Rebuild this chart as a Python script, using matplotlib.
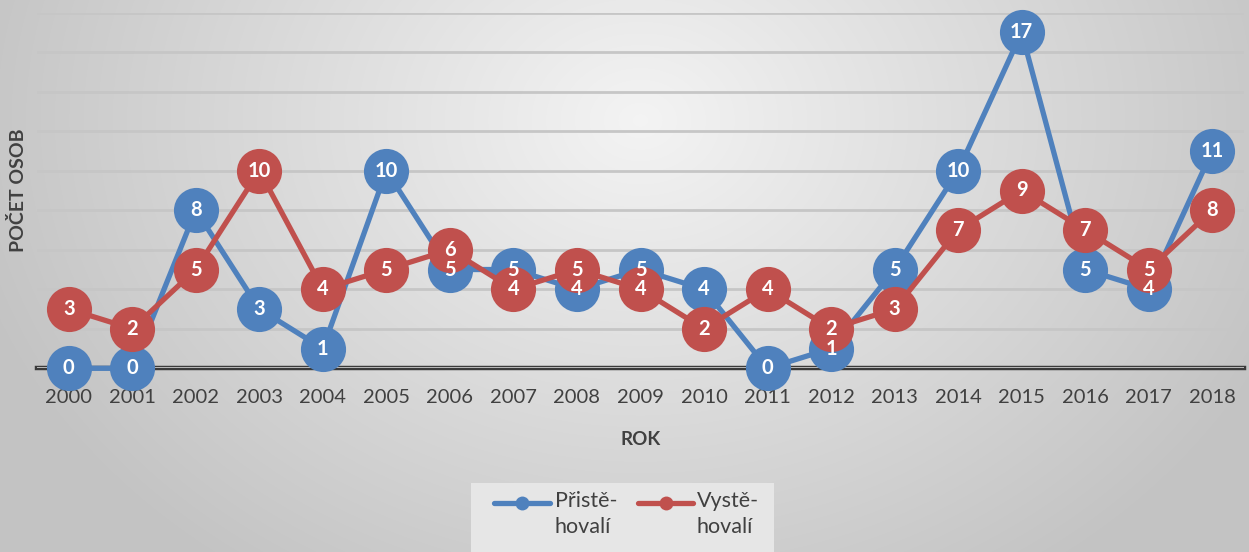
import numpy as np
import matplotlib
matplotlib.use("Agg")
import matplotlib.pyplot as plt
from matplotlib.lines import Line2D
from matplotlib.patches import Rectangle

years = [str(y) for y in range(2000, 2019)]
prist = [0, 0, 8, 3, 1, 10, 5, 5, 4, 5, 4, 0, 1, 5, 10, 17, 5, 4, 11]
vyst = [3, 2, 5, 10, 4, 5, 6, 4, 5, 4, 2, 4, 2, 3, 7, 9, 7, 5, 8]
series_names = ["Přistě-\nhovalí", "Vystě-\nhovalí"]
colors = ["#4f81bd", "#c0504d"]

plt.rcParams['font.family'] = ['Lato', 'DejaVu Sans']

W, H = 1249, 552
fig = plt.figure(figsize=(W / 100, H / 100), dpi=100)

# radial gradient background
bg = fig.add_axes([0, 0, 1, 1], zorder=-10)
yy, xx = np.mgrid[0:H, 0:W]
cx, cy = 640, 120
d = np.sqrt(((xx - cx) / 700.0) ** 2 + ((yy - cy) / 560.0) ** 2)
d = np.clip(d, 0, 1)
val = 0.955 - 0.19 * d
bg.imshow(np.dstack([val, val, val]), aspect='auto', extent=[0, 1, 0, 1], origin='upper')
bg.axis('off')

ax = fig.add_axes([37 / W, 1 - 368.3 / H, (1244 - 37) / W, (368.3 - 12.7) / H])
ax.patch.set_alpha(0)
x = np.arange(len(years))
ax.set_xlim(-0.5, len(years) - 0.5)
ax.set_ylim(0, 18)
ax.set_yticks(np.arange(0, 19, 2))
ax.yaxis.grid(True, color='#c6c6c6', linewidth=2, zorder=0)
ax.set_yticklabels([])
ax.tick_params(axis='y', length=0)
ax.tick_params(axis='x', length=0, labelsize=14.5, labelcolor='#404040', pad=15)
ax.set_xticks(x)
ax.set_xticklabels(years)
for s in ax.spines.values():
    s.set_visible(False)
ax.axhline(0, color='#3a3a3a', linewidth=3.2, zorder=1, clip_on=False)

for vals, c, z in [(prist, colors[0], 3), (vyst, colors[1], 5)]:
    ax.plot(x, vals, color=c, linewidth=3.8, marker='o', markersize=32.5,
            markeredgewidth=0, zorder=z, clip_on=False, solid_capstyle='round')
for vals in (prist, vyst):
    for xi, v in zip(x, vals):
        ax.text(xi, v, str(v), color='white', fontsize=14.5, fontweight='bold',
                ha='center', va='center', zorder=10)

ax.set_xlabel("ROK", fontsize=13.5, fontweight='bold', color='#404040', labelpad=18)
fig.text(18 / W, 1 - 190 / H, "POČET OSOB", rotation=90, fontsize=14, fontweight='bold',
         color='#404040', ha='center', va='center')

# legend (drawn manually to mimic the two-line entries with handle on first line)
fig.patches.append(Rectangle((471 / W, 0), (774 - 471) / W, (552 - 483) / H,
                             transform=fig.transFigure, facecolor='#e6e6e6',
                             edgecolor='none', zorder=1))
leg_x = [(494, 550, 555), (638, 693, 697)]
for (x0, x1, tx), c, name in zip(leg_x, colors, series_names):
    fig.lines.append(Line2D([x0 / W, x1 / W], [1 - 503 / H, 1 - 503 / H],
                            transform=fig.transFigure, color=c, linewidth=3.8,
                            solid_capstyle='round', zorder=2))
    fig.lines.append(Line2D([(x0 + x1) / 2 / W], [1 - 503 / H], transform=fig.transFigure,
                            color=c, marker='o', markersize=10, markeredgewidth=0, zorder=3))
    fig.text(tx / W, 1 - 491 / H, name, fontsize=15.5, color='#404040', ha='left',
             va='top', linespacing=1.38, zorder=3)

fig.savefig("out.png", dpi=100)
